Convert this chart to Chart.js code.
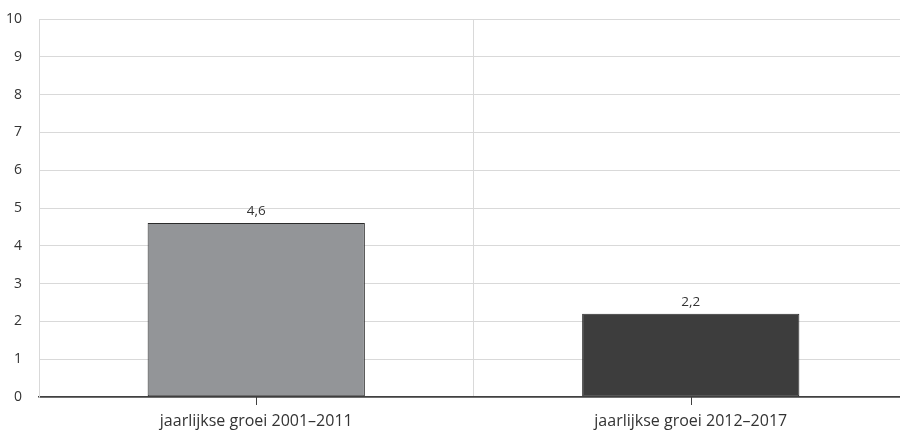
<!DOCTYPE html>
<html>
<head>
<meta charset="utf-8">
<script src="https://cdn.jsdelivr.net/npm/chart.js@4/dist/chart.umd.min.js"></script>
<style>
html,body{margin:0;padding:0;overflow:hidden;background:#fff;width:900px;height:434px;}
#wrap{position:absolute;left:0;top:0;width:908px;height:434px;}
</style>
</head>
<body>
<div id="wrap"><canvas id="c" width="908" height="434"></canvas></div>
<script>
const categories = ['jaarlijkse groei 2001–2011', 'jaarlijkse groei 2012–2017'];
const values = [4.6, 2.2];
const barColors = ['#939598', '#3d3d3d'];
const yTicks = [0, 1, 2, 3, 4, 5, 6, 7, 8, 9, 10];

const FONT = '"Open Sans", "Noto Sans", sans-serif';
const TEXT = '#333333';

const valueLabels = {
  id: 'valueLabels',
  afterDatasetsDraw(chart) {
    const ctx = chart.ctx;
    const meta = chart.getDatasetMeta(0);
    ctx.save();
    ctx.font = '13.5px ' + FONT;
    ctx.fillStyle = TEXT;
    ctx.textAlign = 'center';
    ctx.textBaseline = 'bottom';
    meta.data.forEach((bar, i) => {
      ctx.fillText(values[i].toLocaleString('nl-NL'), bar.x, bar.y - 5);
    });
    ctx.restore();
  }
};

const centerTicks = {
  id: 'centerTicks',
  afterDraw(chart) {
    const ctx = chart.ctx;
    const x = chart.scales.x;
    const bottom = chart.chartArea.bottom;
    ctx.save();
    ctx.strokeStyle = '#404040';
    ctx.lineWidth = 1;
    categories.forEach((c, i) => {
      const px = Math.round(x.getPixelForValue(i)) + 0.5;
      ctx.beginPath();
      ctx.moveTo(px, bottom);
      ctx.lineTo(px, bottom + 8);
      ctx.stroke();
    });
    ctx.restore();
  }
};

new Chart(document.getElementById('c'), {
  type: 'bar',
  data: {
    labels: categories,
    datasets: [{
      data: values,
      backgroundColor: barColors,
      borderColor: '#2b2b2b',
      borderWidth: 1,
      borderSkipped: false,
      categoryPercentage: 1,
      barPercentage: 0.5
    }]
  },
  options: {
    responsive: false,
    animation: false,
    devicePixelRatio: 1,
    layout: { padding: { top: 19, left: 0, right: 0, bottom: 0 } },
    plugins: {
      legend: { display: false },
      tooltip: { enabled: false }
    },
    scales: {
      x: {
        offset: true,
        afterFit(scale) { scale.height = 37; scale.paddingLeft = 0; scale.paddingRight = 0; },
        grid: { offset: true, color: '#d9d9d9', lineWidth: 1, drawTicks: false },
        border: { display: true, color: '#404040', width: 1.5 },
        ticks: { color: TEXT, font: { family: FONT, size: 16 }, padding: 15, maxRotation: 0 }
      },
      y: {
        min: 0,
        max: 10,
        afterFit(scale) { scale.width = 39; scale.paddingTop = 0; scale.paddingBottom = 0; },
        afterBuildTicks(scale) { scale.ticks = yTicks.map(v => ({ value: v })); },
        grid: {
          color: c => (c.tick && c.tick.value === 0 ? '#404040' : '#d9d9d9'),
          lineWidth: c => (c.tick && c.tick.value === 0 ? 1.5 : 1),
          drawTicks: false
        },
        border: { display: true, color: '#d9d9d9', width: 1 },
        ticks: { color: TEXT, font: { family: FONT, size: 14 }, padding: 17 }
      }
    }
  },
  plugins: [valueLabels, centerTicks]
});
</script>
</body>
</html>
